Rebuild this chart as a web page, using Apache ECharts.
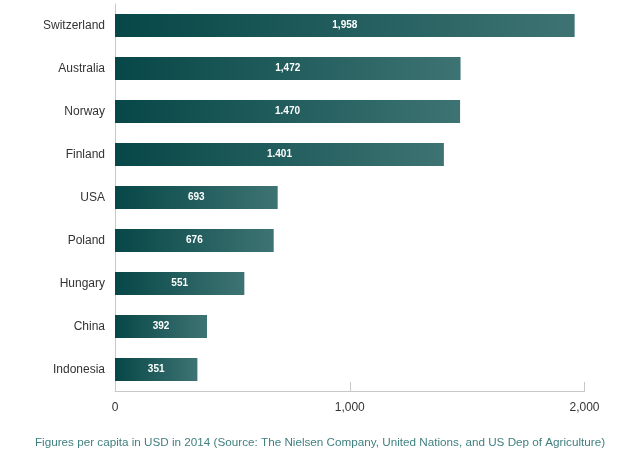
<!DOCTYPE html>
<html>
<head>
<meta charset="utf-8">
<script src="https://cdn.jsdelivr.net/npm/echarts@6/dist/echarts.min.js"></script>
<style>
html,body{margin:0;padding:0;background:#fff;}
#chart{width:640px;height:456px;}
</style>
</head>
<body>
<div id="chart"></div>
<script>
var categories = ["Switzerland","Australia","Norway","Finland","USA","Poland","Hungary","China","Indonesia"];
var values = [1958, 1472, 1470, 1401, 693, 676, 551, 392, 351];
var valueLabels = ["1,958","1,472","1.470","1.401","693","676","551","392","351"];
var xTicks = [0, 1000, 2000];
var xTickLabels = ["0","1,000","2,000"];
var caption = "Figures per capita in USD in 2014 (Source: The Nielsen Company, United Nations, and US Dep of Agriculture)";

var chart = echarts.init(document.getElementById('chart'), null, {renderer:'canvas'});
var grad = new echarts.graphic.LinearGradient(0, 0, 1, 0, [
  {offset:0, color:'#074747'},
  {offset:1, color:'#3e7373'}
]);
chart.setOption({
  animation:false,
  backgroundColor:'#ffffff',
  grid:{left:115, right:55.5, top:4, bottom:65, containLabel:false},
  title:{
    text: caption,
    left:'center',
    top:432,
    textStyle:{color:'#3f7f7f', fontSize:11.7, fontWeight:'normal', fontFamily:'Liberation Sans'}
  },
  xAxis:{
    type:'value', min:0, max:2000, interval:1000,
    axisLine:{show:true, lineStyle:{color:'#c8c8c8', width:1}},
    axisTick:{show:true, inside:true, length:9, lineStyle:{color:'#c8c8c8'}},
    splitLine:{show:false},
    axisLabel:{
      margin:11,
      color:'#333', fontSize:12, fontFamily:'Liberation Sans',
      formatter:function(v){ var i = xTicks.indexOf(v); return i>=0 ? xTickLabels[i] : ''; }
    }
  },
  yAxis:{
    type:'category', data:categories, inverse:true,
    axisLine:{show:true, lineStyle:{color:'#c8c8c8', width:1}},
    axisTick:{show:false},
    axisLabel:{margin:10, color:'#333', fontSize:12, fontFamily:'Liberation Sans'}
  },
  series:[{
    type:'bar',
    data:values,
    barWidth:23,
    itemStyle:{color:grad},
    label:{
      show:true, position:'inside', color:'#fff', fontSize:10, fontWeight:'bold',
      fontFamily:'Liberation Sans',
      formatter:function(p){ return valueLabels[p.dataIndex]; }
    }
  }]
});
</script>
</body>
</html>
